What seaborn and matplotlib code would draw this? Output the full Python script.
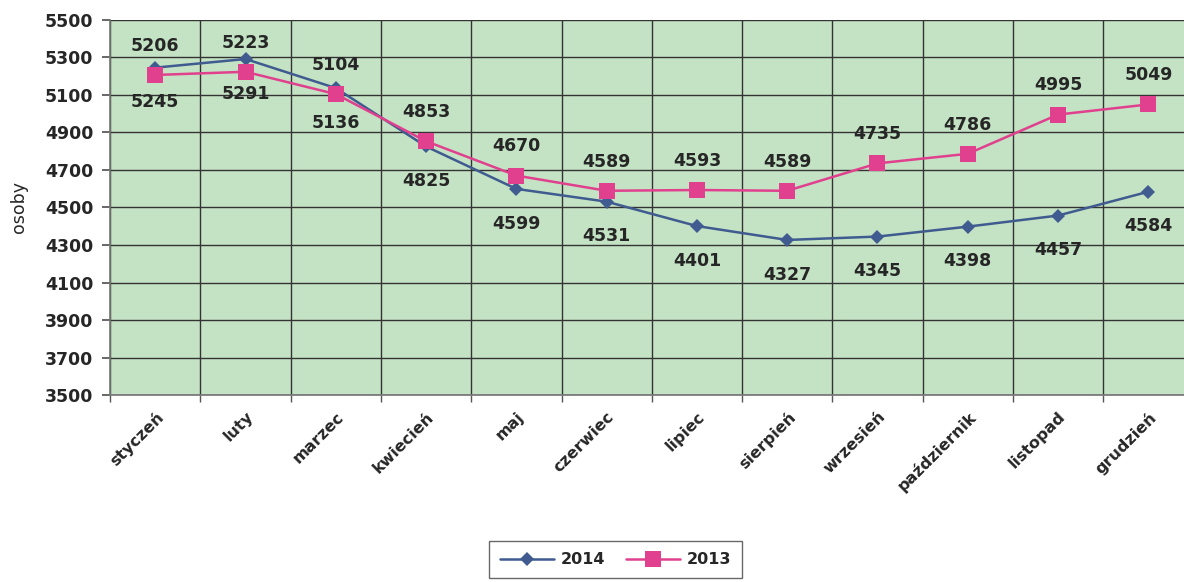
import pandas as pd
import numpy as np
import matplotlib
matplotlib.use("Agg")
import matplotlib.pyplot as plt
import seaborn as sns

# data
months = ['styczeń', 'luty', 'marzec', 'kwiecień', 'maj', 'czerwiec',
          'lipiec', 'sierpień', 'wrzesień', 'październik', 'listopad', 'grudzień']
vals_2014 = [5245, 5291, 5136, 4825, 4599, 4531, 4401, 4327, 4345, 4398, 4457, 4584]
vals_2013 = [5206, 5223, 5104, 4853, 4670, 4589, 4593, 4589, 4735, 4786, 4995, 5049]
y_ticks = list(range(3500, 5501, 200))

sns.set_theme(style="white")
plt.rcParams['font.family'] = ['DejaVu Sans']

df = pd.DataFrame({
    'miesiac': months * 2,
    'osoby': vals_2014 + vals_2013,
    'rok': ['2014'] * 12 + ['2013'] * 12,
})
df['x'] = df['miesiac'].map({m: i for i, m in enumerate(months)})

blue = '#3f5b8f'
pink = '#e0408e'
txt = '#262626'

fig = plt.figure(figsize=(11.84, 5.82), dpi=100)
ax = fig.add_axes([0.093, 0.321, 0.915, 0.645])
ax.set_facecolor('#c4e3c4')

sns.lineplot(data=df, x='x', y='osoby', hue='rok', style='rok',
             hue_order=['2014', '2013'], style_order=['2014', '2013'],
             palette={'2014': blue, '2013': pink},
             markers={'2014': 'D', '2013': 's'}, dashes=False,
             markersize=8, linewidth=1.8, markeredgewidth=0, ax=ax, zorder=3)
# squares a bit bigger than diamonds
for line in ax.lines:
    if line.get_marker() == 's':
        line.set_markersize(11)
    elif line.get_marker() == 'D':
        line.set_markersize(7)

# value labels: 2013 above, 2014 below
for i in range(len(months)):
    ax.annotate(str(vals_2013[i]), (i, vals_2013[i]), xytext=(0, 21),
                textcoords='offset points', ha='center', va='center',
                fontsize=12.5, fontweight='bold', color=txt)
    ax.annotate(str(vals_2014[i]), (i, vals_2014[i]), xytext=(0, -25),
                textcoords='offset points', ha='center', va='center',
                fontsize=12.5, fontweight='bold', color=txt)

ax.set_xlim(-0.5, 11.5)
ax.set_ylim(3500, 5500)
ax.set_yticks(y_ticks)
ax.set_yticklabels([str(v) for v in y_ticks], fontsize=12.5, fontweight='bold', color=txt)
ax.set_xticks(range(len(months)))
ax.set_xticklabels(months, rotation=45, ha='right', rotation_mode='anchor',
                   fontsize=11.5, fontweight='bold', color=txt)
ax.set_xticks(np.arange(-0.5, 12, 1), minor=True)
ax.tick_params(axis='x', which='major', length=0, pad=10)
ax.tick_params(axis='x', which='minor', length=5, color='#555555', bottom=True)
ax.tick_params(axis='y', length=6, color='#555555', left=True, pad=6)

ax.grid(True, axis='y', color='#333333', linewidth=1)
ax.grid(True, axis='x', which='minor', color='#333333', linewidth=1)
ax.set_axisbelow(True)
for s in ['top', 'right']:
    ax.spines[s].set_visible(False)
for s in ['left', 'bottom']:
    ax.spines[s].set_color('#777777')

ax.set_xlabel('')
ax.set_ylabel('osoby', fontsize=12.5, color=txt, labelpad=12)

handles, labels = ax.get_legend_handles_labels()
ax.legend_.remove()
leg = fig.legend(handles, labels, loc='upper center', bbox_to_anchor=(0.52, 0.084),
                 ncol=2, frameon=True, fancybox=False, edgecolor='#444444',
                 handlelength=3.4, handletextpad=0.4, columnspacing=1.3,
                 borderpad=0.7, prop={'weight': 'bold', 'size': 11.5})
leg.get_frame().set_linewidth(1)
for t in leg.get_texts():
    t.set_color(txt)

fig.savefig('out.png', dpi=100, facecolor='white')
